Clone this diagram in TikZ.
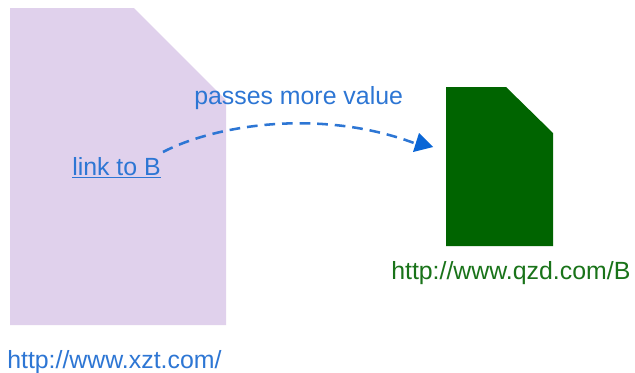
\documentclass[tikz,border=0pt]{standalone}
\usepackage{fontspec}
\setmainfont{Liberation Sans}
\usetikzlibrary{arrows.meta}
\definecolor{lilac}{RGB}{224,209,236}
\definecolor{dkgreen}{RGB}{0,100,0}
\definecolor{blue1}{RGB}{45,118,212}
\definecolor{blue2}{RGB}{10,102,214}
\definecolor{greentext}{RGB}{25,115,25}
\tikzset{px/.style={x=0.75pt,y=-0.75pt},lbl/.style={inner sep=0pt,font=\fontsize{18.65pt}{20pt}\selectfont}}
\begin{document}
\begin{tikzpicture}[px]
\useasboundingbox (0,0) rectangle (635,372);
\fill[white] (0,0) rectangle (635,372);
\fill[lilac] (10,8) -- (134,8) -- (226,100) -- (226,325) -- (10,325) -- cycle;
\fill[dkgreen] (446,87) -- (506,87) -- (553,133) -- (553,246) -- (446,246) -- cycle;
\node[lbl,text=blue1,anchor=base west] (link) at (72,175) {\underline{link to B}};
\node[lbl,text=blue1,anchor=base west] (pass) at (194,104) {passes more value};
\node[lbl,text=greentext,anchor=base west] (urlb) at (391,279) {http://www.qzd.com/B};
\node[lbl,text=blue1,anchor=base west] (urla) at (7,368) {http://www.xzt.com/};
\coordinate (s) at (163,152);
\coordinate (e) at (414,143);
\draw[blue1,line width=1.9pt,dash pattern=on 8pt off 5.2pt] (s) .. controls (215,125) and (320,108) .. (e);
\fill[blue2] (433,147) -- (419,133) -- (413,152) -- cycle;
\end{tikzpicture}
\end{document}
